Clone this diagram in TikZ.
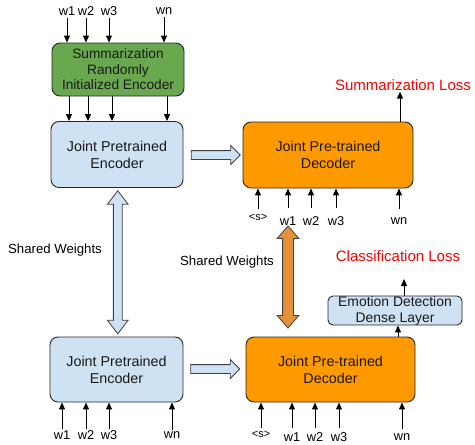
\documentclass[tikz,border=0pt]{standalone}
\usepackage{fontspec}
\setmainfont{Liberation Sans}
\usetikzlibrary{arrows.meta,shapes.arrows,calc}

\definecolor{encblue}{HTML}{CFE2F3}
\definecolor{sumgreen}{HTML}{6AA84F}
\definecolor{decorange}{HTML}{FF9900}
\definecolor{sharedorange}{HTML}{E69138}
\definecolor{lossred}{HTML}{FF0000}

\begin{document}
\begin{tikzpicture}[x=1pt,y=-1pt,
    box/.style={draw=black!85, line width=0.9pt, rounded corners=8pt,
      align=center, inner sep=0pt, text=black!90,
      font=\fontsize{14.3}{17}\selectfont},
    encbox/.style={box, fill=encblue, minimum width=132pt, minimum height=66pt},
    decbox/.style={box, fill=decorange, minimum width=170pt, minimum height=66pt},
    wlab/.style={inner sep=1pt, font=\fontsize{12.8}{14}\selectfont},
    slab/.style={inner sep=1pt, font=\fontsize{11}{12}\selectfont},
    losslab/.style={inner sep=1pt, text=lossred, font=\fontsize{15}{17}\selectfont},
    inarrow/.style={-{Triangle[length=7pt,width=6pt]}, line width=1pt},
    flowarrow/.style={single arrow, draw=black!75, fill=encblue, line width=0.8pt,
      minimum height=49pt, inner xsep=0pt, inner ysep=4pt,
      single arrow head extend=5pt},
    sharedarrow/.style={double arrow, draw=black!75, line width=0.8pt,
      rotate=90, inner xsep=0pt},
  ]
  \useasboundingbox (0,0) rectangle (475,445);

  % boxes
  \node[box, fill=sumgreen, minimum width=132pt, minimum height=53pt,
    font=\fontsize{13.7}{15.5}\selectfont] (sumenc) at (118,69.5)
    {Summarization\\Randomly\\Initialized Encoder};
  \node[encbox] (enc1) at (117,154.5) {Joint Pretrained\\Encoder};
  \node[decbox] (dec1) at (328,155) {Joint Pre-trained\\Decoder};
  \node[encbox, minimum width=133pt, minimum height=65pt] (enc2) at (116.5,369.5)
    {Joint Pretrained\\Encoder};
  \node[decbox, minimum width=169pt, minimum height=65pt] (dec2) at (330.5,369.5)
    {Joint Pre-trained\\Decoder};
  \node[box, fill=encblue, rounded corners=5pt, minimum width=134pt,
    minimum height=29pt, font=\fontsize{13.9}{16}\selectfont] (dense) at (395,310.5)
    {Emotion Detection\\Dense Layer};

  % losses and labels
  \node[losslab] (sumloss) at (403,85) {Summarization Loss};
  \node[losslab] (clsloss) at (398,256) {Classification Loss};
  \node[inner sep=1pt, font=\fontsize{13.2}{15}\selectfont] (sharedenc) at (55,250)
    {Shared Weights};
  \node[inner sep=1pt, font=\fontsize{13.2}{15}\selectfont] (shareddec) at (227,262)
    {Shared Weights};

  % block arrows
  \node[flowarrow] (flow1) at (213.5,155) {};
  \node[flowarrow] (flow2) at (213,369) {};
  \node[sharedarrow, fill=encblue, minimum height=143pt, inner ysep=4pt,
    double arrow head extend=6pt, double arrow tip angle=75] (shareenc)
    at ($(enc1.south)!0.5!(enc2.north)+(1,0)$) {};
  \node[sharedarrow, fill=sharedorange, minimum height=102pt, inner ysep=5pt,
    double arrow head extend=5.5pt, double arrow tip angle=82] (sharedec)
    at (288,277) {};

  % encoder inputs
  \foreach \i/\x/\xx/\t in {1/67/69/w1, 2/86/88/w2, 3/109/112/w3, n/164/167/wn} {
    \node[wlab] (tin\i) at (\x,11) {\t};
    \draw[inarrow, shorten <=1pt] (tin\i.south) -- (tin\i.south |- sumenc.north);
    \draw[inarrow] (\xx,0 |- sumenc.south) -- (\xx,0 |- enc1.north);
  }
  \foreach \i/\x/\t in {1/62/w1, 2/86/w2, 3/109/w3, n/172/wn} {
    \node[wlab] (bin\i) at (\x,435) {\t};
    \draw[inarrow] (bin\i.north) -- (bin\i.north |- enc2.south);
  }

  % decoder inputs
  \node[slab] (ts) at (258,217) {<s>};
  \draw[inarrow, shorten <=4pt] (ts.north) -- (ts.north |- dec1.south);
  \foreach \i/\x/\t in {1/288/w1, 2/311/w2, 3/336/w3, n/399/wn} {
    \node[wlab] (tout\i) at (\x,221) {\t};
    \draw[inarrow, shorten <=7pt] (tout\i.north) -- (tout\i.north |- dec1.south);
  }
  \node[slab] (bs) at (261,434) {<s>};
  \draw[inarrow, shorten <=2pt] (bs.north) -- (bs.north |- dec2.south);
  \foreach \i/\x/\t in {1/292/w1, 2/315/w2, 3/339/w3, n/402/wn} {
    \node[wlab] (bout\i) at (\x,437) {\t};
    \draw[inarrow, shorten <=3pt] (bout\i.north) -- (bout\i.north |- dec2.south);
  }

  % outputs
  \draw[inarrow] (dec1.north -| 400,0) -- (400,0 |- sumloss.south);
  \draw[inarrow] (dec2.north -| 398,0) -- (398,0 |- dense.south);
  \coordinate (clsin) at (404,279);
  \draw[inarrow] (dense.north -| clsin) -- (clsin);
\end{tikzpicture}
\end{document}
